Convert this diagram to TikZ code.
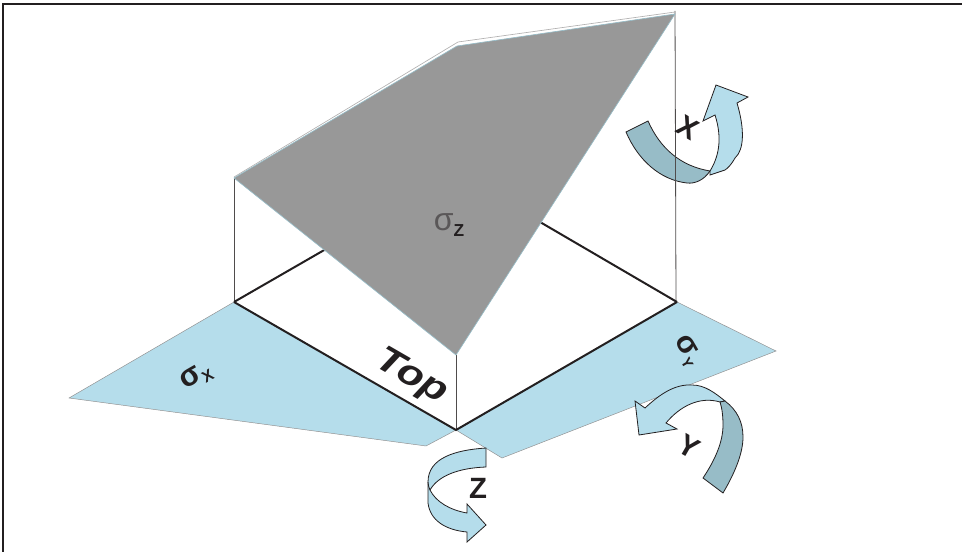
\documentclass[tikz,border=0pt]{standalone}
\usepackage{fontspec}
\setmainfont{Liberation Sans}
\usetikzlibrary{positioning,calc}
\definecolor{cBlue}{HTML}{B5DDEB}
\definecolor{cBand}{HTML}{97BCC7}
\definecolor{cGrey}{HTML}{989898}
\definecolor{cInk}{HTML}{231F20}
\tikzset{
  edgeline/.style={cInk, line width=1.5pt},
  riseline/.style={cInk!80, line width=0.6pt},
  planeface/.style={fill=cBlue, draw=cInk!50, line width=0.35pt},
  turnlight/.style={fill=cBlue, draw=cInk, line width=0.6pt, line join=miter},
  turndark/.style={fill=cBand, draw=cInk, line width=0.6pt},
  axislabel/.style={font=\bfseries\fontsize{22}{22}\selectfont, text=cInk, inner sep=0pt},
  stresslabel/.style={font=\bfseries\fontsize{23}{23}\selectfont, text=cInk, inner sep=0pt},
}
\begin{document}
\begin{tikzpicture}[x=0.75pt, y=-0.75pt]
\useasboundingbox (0,0) rectangle (962,552);
\draw[cInk, line width=0.9pt] (3,552) -- (3,4) -- (962,4);
% lower planes
\draw[planeface] (234,302) -- (456,430) -- (426,446) -- (69,398) -- cycle;
\draw[planeface] (456,430) -- (677,302) -- (776,351) -- (502,458) -- cycle;
% turn about X
\draw[turnlight] (710,171) .. controls (718,158) and (723,140) .. (715,115) -- (703,121) -- (716,85) -- (748,97) -- (737,103)
  .. controls (745,130) and (744,150) .. (735,158) .. controls (731,165) and (728,168) .. (725,170) -- (710,175) -- cycle;
\draw[turndark] (626,132) -- (648,121) .. controls (660,148) and (680,166) .. (710,171)
  .. controls (704,180) and (695,184) .. (687,183) .. controls (660,180) and (638,160) .. (626,132) -- cycle;
% box
\draw[riseline] (234,178) -- (234,302);
\draw[riseline] (675,11) -- (676,302);
\draw[riseline] (456,355) -- (456,430);
\draw[edgeline] (234,302) -- (456,430) -- (677,302);
\draw[edgeline] (234,302) -- (326,249);
\draw[edgeline] (540,222) -- (677,302);
% upper plane
\draw[cInk!35, line width=0.5pt] (234,177) -- (458,42) -- (675,12);
\draw[fill=cGrey, draw=cBand, line width=0.5pt] (234,178) -- (457,46) -- (675,14) -- (456,355) -- cycle;
% turn about Y
\draw[turnlight] (725,401) .. controls (715,393) and (705,385) .. (692,385) .. controls (675,384) and (660,394) .. (645,408) -- (635,401) -- (639,435) -- (677,429) -- (666,423)
  .. controls (680,406) and (700,396) .. (720,402) -- cycle;
\draw[turndark] (720,402) -- (725,401) .. controls (737,410) and (743,422) .. (743,437) .. controls (743,455) and (733,476) .. (723,493) -- (703,478)
  .. controls (715,460) and (723,442) .. (723,425) .. controls (723,416) and (722,408) .. (720,402) -- cycle;
% turn about Z
\draw[turnlight] (486,448) .. controls (455,450) and (428,458) .. (428,482) -- (428,503) .. controls (430,520) and (445,530) .. (467,532)
  -- (467,542) -- (486,525) -- (467,504) -- (467,513) .. controls (450,510) and (436,502) .. (430,490)
  .. controls (438,476) and (458,468) .. (486,467) -- cycle;
\draw[turnlight] (428,482) .. controls (428,485) and (429,488) .. (430,490);
% labels
\node[axislabel, rotate=-30] (labelX) at (688,128) {X};
\node[axislabel, rotate=-30] (labelY) at (689,447) {Y};
\node[axislabel] (labelZ) at (478,488) {Z};
\node[font=\bfseries\itshape\fontsize{27}{27}\selectfont, text=cInk, inner sep=0pt, rotate=-30, xscale=1.2] (labelTop) at (411,377) {Top};
\node[stresslabel, rotate=30] (labelSigmaX) at (196,377) {σ\raisebox{-4pt}{\fontsize{12}{12}\selectfont X}};
\node[stresslabel, rotate=-60] (labelSigmaY) at (687,351) {σ\raisebox{-4pt}{\fontsize{11}{11}\selectfont Y}};
\node[font=\fontsize{24}{24}\selectfont, text=cInk!75, inner sep=0pt] (labelSigmaZ) at (449,225) {σ\raisebox{-5pt}{\fontsize{13}{13}\selectfont\bfseries\color{cInk} Z}};
\end{tikzpicture}
\end{document}
